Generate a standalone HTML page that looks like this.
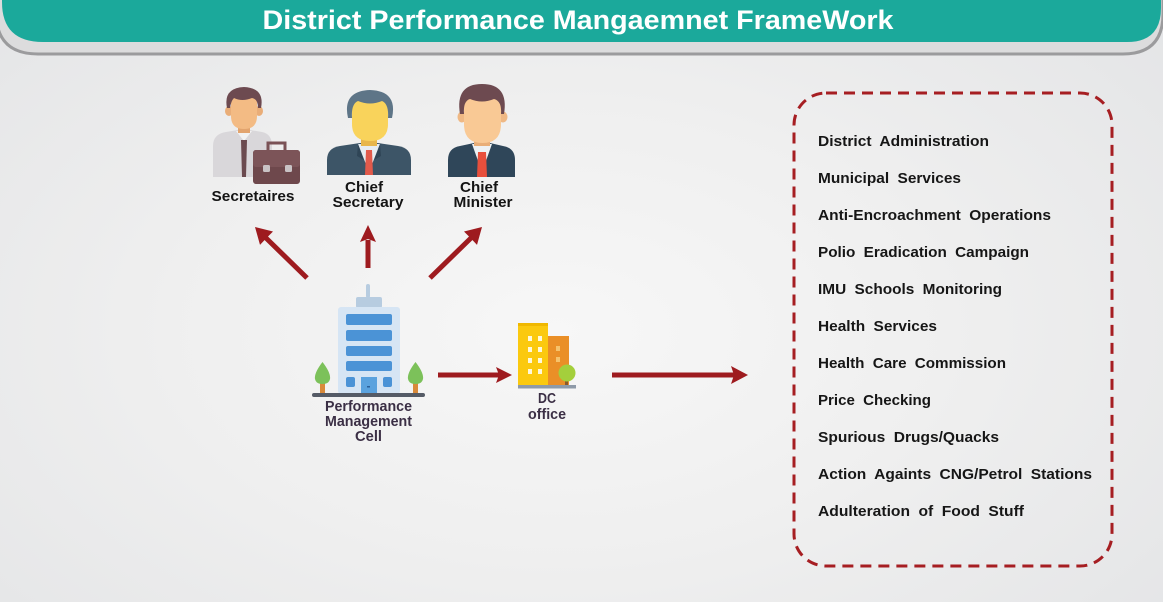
<!DOCTYPE html>
<html><head><meta charset="utf-8"><style>
html,body{margin:0;padding:0;}
body{width:1163px;height:602px;overflow:hidden;position:relative;
background:radial-gradient(ellipse 75% 85% at 48% 55%, #f7f7f7 0%, #efefef 45%, #e2e3e5 100%);
font-family:"Liberation Sans",sans-serif;}
svg{position:absolute;left:0;top:0;}
</style></head><body>
<svg width="1163" height="602" viewBox="0 0 1163 602" xmlns="http://www.w3.org/2000/svg" font-family="Liberation Sans, sans-serif">
<!-- header -->
<path d="M-4,-2 H1163 V14 Q1163,54 1123,54 H38 Q-4,54 -4,12 Z" fill="#dcdcdd" stroke="#9b9b9d" stroke-width="3"/>
<path d="M2,-2 H1161 V8 Q1161,42 1127,42 H43 Q2,42 2,2 Z" fill="#1ba99b"/>
<text x="578" y="29" text-anchor="middle" fill="#fff" font-weight="bold" font-size="27" textLength="631" lengthAdjust="spacingAndGlyphs">District Performance Mangaemnet FrameWork</text>

<!-- Secretaires person -->
<g>
<path d="M213,177 V146 Q213,134 226,132 L238,130 H250 L262,132 Q272,134 272,146 V177 Z" fill="#d9d7da"/>
<path d="M236,131 L244,141 L252,131 Z" fill="#f2f2f2"/>
<rect x="238" y="124" width="12" height="9" fill="#e2a46e"/>
<ellipse cx="229" cy="111" rx="4" ry="5" fill="#e9ad78"/>
<ellipse cx="259" cy="111" rx="4" ry="5" fill="#e9ad78"/>
<path d="M231,98 V116 Q231,129 244,129 Q257,129 257,116 V98 Z" fill="#f3bb84"/>
<path d="M227,108 Q223,88 244,87 Q265,88 261,108 L258,108 Q258,99 252,98 Q242,102 234,98 Q231,101 230,108 Z" fill="#6d4a50"/>
<path d="M241,140 L247,140 L246,177 L242,177 Z" fill="#6b4a4f"/>
<path d="M268,150 V143 H285 V150" fill="none" stroke="#7a5256" stroke-width="3"/>
<rect x="253" y="150" width="47" height="34" rx="3" fill="#6e484c"/>
<rect x="253" y="150" width="47" height="17" rx="3" fill="#7c5458"/>
<rect x="263" y="165" width="7" height="7" rx="1.5" fill="#c9c3c5"/>
<rect x="285" y="165" width="7" height="7" rx="1.5" fill="#c9c3c5"/>
</g>
<text x="253" y="201" text-anchor="middle" font-weight="bold" font-size="15" fill="#141414" textLength="83" lengthAdjust="spacingAndGlyphs">Secretaires</text>

<!-- Chief Secretary -->
<g>
<path d="M327,175 V160 Q327,148 340,146 L360,143 H378 L398,146 Q411,148 411,160 V175 Z" fill="#3d5567"/>
<path d="M358,144 L369,172 L380,144 Z" fill="#e7ecf0"/>
<rect x="361" y="136" width="16" height="10" fill="#e8b64a"/>
<path d="M352,98 V124 Q352,141 370,141 Q388,141 388,124 V98 Z" fill="#f9d35b"/>
<path d="M348,118 Q342,91 370,90 Q398,91 392,118 L388,118 Q389,104 382,101 Q370,106 358,101 Q351,104 352,118 Z" fill="#5e7587"/>
<path d="M366,150 L372,150 L373,175 L365,175 Z" fill="#e25a4b"/>
<path d="M358,144 L364,160 L357,156 Z M380,144 L374,160 L381,156 Z" fill="#2f4556"/>
</g>
<text x="364" y="192" text-anchor="middle" font-weight="bold" font-size="15" fill="#141414" textLength="38" lengthAdjust="spacingAndGlyphs">Chief</text>
<text x="368" y="207" text-anchor="middle" font-weight="bold" font-size="15" fill="#141414" textLength="71" lengthAdjust="spacingAndGlyphs">Secretary</text>

<!-- Chief Minister -->
<g>
<path d="M448,177 V160 Q448,148 460,146 L474,143 H490 L503,146 Q515,148 515,160 V177 Z" fill="#2f4659"/>
<path d="M472,144 L482,172 L492,144 Z" fill="#eef1f3"/>
<rect x="474" y="136" width="16" height="10" fill="#e9ae78"/>
<ellipse cx="462" cy="117" rx="4.5" ry="5.5" fill="#efb884"/>
<ellipse cx="503" cy="117" rx="4.5" ry="5.5" fill="#efb884"/>
<path d="M464,98 V124 Q464,143 482.5,143 Q501,143 501,124 V98 Z" fill="#f9c995"/>
<path d="M460,114 Q455,84 482,84 Q509,84 504,114 L501,114 Q502,101 494,99 Q482,104 470,99 Q463,101 464,114 Z" fill="#6d4a50"/>
<path d="M478,152 L486,152 L487,177 L477,177 Z" fill="#e84f3c"/>
</g>
<text x="479" y="192" text-anchor="middle" font-weight="bold" font-size="15" fill="#141414" textLength="38" lengthAdjust="spacingAndGlyphs">Chief</text>
<text x="483" y="207" text-anchor="middle" font-weight="bold" font-size="15" fill="#141414" textLength="59" lengthAdjust="spacingAndGlyphs">Minister</text>

<!-- arrows -->
<g fill="#9e1b1f" stroke="none">
<line x1="307" y1="278" x2="266" y2="238" stroke="#9e1b1f" stroke-width="5"/>
<polygon points="255,227 273,231.5 266.5,238 260,244.9"/>
<line x1="368" y1="268" x2="368" y2="240" stroke="#9e1b1f" stroke-width="5"/>
<polygon points="368,225 376,242 368,239 360,242"/>
<line x1="430" y1="278" x2="471" y2="238" stroke="#9e1b1f" stroke-width="5"/>
<polygon points="482,227 477,244.9 470.5,238 464,231.5"/>
<line x1="438" y1="375" x2="500" y2="375" stroke="#9e1b1f" stroke-width="5"/>
<polygon points="512,375 496,367 499,375 496,383"/>
<line x1="612" y1="375" x2="735" y2="375" stroke="#9e1b1f" stroke-width="5"/>
<polygon points="748,375 731,366 734,375 731,384"/>
</g>

<!-- Performance Management Cell building -->
<g>
<rect x="366" y="284" width="4" height="14" rx="2" fill="#b7cce0"/>
<rect x="356" y="297" width="26" height="11" rx="2" fill="#b7cce0"/>
<rect x="338" y="307" width="62" height="87" rx="3" fill="#d6e5f4"/>
<rect x="346" y="314" width="46" height="11" rx="2" fill="#4b93d6"/>
<rect x="346" y="330" width="46" height="11" rx="2" fill="#4b93d6"/>
<rect x="346" y="346" width="46" height="10" rx="2" fill="#4b93d6"/>
<rect x="346" y="361" width="46" height="10" rx="2" fill="#4b93d6"/>
<rect x="346" y="377" width="9" height="10" rx="2" fill="#4b93d6"/>
<rect x="383" y="377" width="9" height="10" rx="2" fill="#4b93d6"/>
<rect x="361" y="377" width="16" height="17" fill="#5aa2de"/>
<rect x="367" y="386" width="3" height="1.5" fill="#2a5f99"/>
<rect x="320" y="380" width="5" height="14" fill="#d98a3a"/>
<path d="M322.5,362 Q314,373 315,379 Q316,384 322.5,384 Q329,384 330,379 Q331,373 322.5,362 Z" fill="#7cc15a"/>
<rect x="413" y="380" width="5" height="14" fill="#d98a3a"/>
<path d="M415.5,362 Q407,373 408,379 Q409,384 415.5,384 Q422,384 423,379 Q424,373 415.5,362 Z" fill="#7cc15a"/>
<rect x="312" y="393" width="113" height="4" rx="2" fill="#555b66"/>
</g>
<g font-weight="bold" font-size="14.5" fill="#3b2f45" text-anchor="middle">
<text x="368.5" y="411" textLength="87" lengthAdjust="spacingAndGlyphs">Performance</text>
<text x="368.5" y="426" textLength="87" lengthAdjust="spacingAndGlyphs">Management</text>
<text x="368.5" y="441" textLength="27" lengthAdjust="spacingAndGlyphs">Cell</text>
</g>

<!-- DC office -->
<g>
<rect x="548" y="336" width="21" height="51" fill="#ea8f27"/>
<rect x="556" y="346" width="4" height="5" fill="#f6c36c"/>
<rect x="556" y="357" width="4" height="5" fill="#f6c36c"/>
<rect x="518" y="323" width="30" height="64" fill="#fbc90f"/>
<rect x="518" y="323" width="30" height="3" fill="#f0b800"/>
<g fill="#fff8dc">
<rect x="528" y="336" width="4" height="5"/><rect x="538" y="336" width="4" height="5"/>
<rect x="528" y="347" width="4" height="5"/><rect x="538" y="347" width="4" height="5"/>
<rect x="528" y="358" width="4" height="5"/><rect x="538" y="358" width="4" height="5"/>
<rect x="528" y="369" width="4" height="5"/><rect x="538" y="369" width="4" height="5"/>
</g>
<rect x="565" y="375" width="3" height="11" fill="#8a5a2b"/>
<circle cx="567" cy="373" r="8.5" fill="#a4cf3c"/>
<rect x="518" y="385" width="58" height="3.5" fill="#8e9aa8"/>
</g>
<g font-weight="bold" font-size="14.5" fill="#3b2f45" text-anchor="middle">
<text x="547" y="403" textLength="18" lengthAdjust="spacingAndGlyphs">DC</text>
<text x="547" y="419" textLength="38" lengthAdjust="spacingAndGlyphs">office</text>
</g>

<!-- dashed box -->
<rect x="794" y="93" width="318" height="473" rx="32" fill="none" stroke="#a61e22" stroke-width="3" stroke-dasharray="11 7"/>
<g font-weight="bold" font-size="15" fill="#161616" word-spacing="4">
<text x="818" y="146" textLength="171" lengthAdjust="spacingAndGlyphs">District Administration</text>
<text x="818" y="183" textLength="143" lengthAdjust="spacingAndGlyphs">Municipal Services</text>
<text x="818" y="220" textLength="233" lengthAdjust="spacingAndGlyphs">Anti-Encroachment Operations</text>
<text x="818" y="257" textLength="211" lengthAdjust="spacingAndGlyphs">Polio Eradication Campaign</text>
<text x="818" y="294" textLength="184" lengthAdjust="spacingAndGlyphs">IMU Schools Monitoring</text>
<text x="818" y="331" textLength="119" lengthAdjust="spacingAndGlyphs">Health Services</text>
<text x="818" y="368" textLength="188" lengthAdjust="spacingAndGlyphs">Health Care Commission</text>
<text x="818" y="405" textLength="113" lengthAdjust="spacingAndGlyphs">Price Checking</text>
<text x="818" y="442" textLength="181" lengthAdjust="spacingAndGlyphs">Spurious Drugs/Quacks</text>
<text x="818" y="479" textLength="274" lengthAdjust="spacingAndGlyphs">Action Againts CNG/Petrol Stations</text>
<text x="818" y="516" textLength="206" lengthAdjust="spacingAndGlyphs">Adulteration of Food Stuff</text>
</g>
</svg>
</body></html>
